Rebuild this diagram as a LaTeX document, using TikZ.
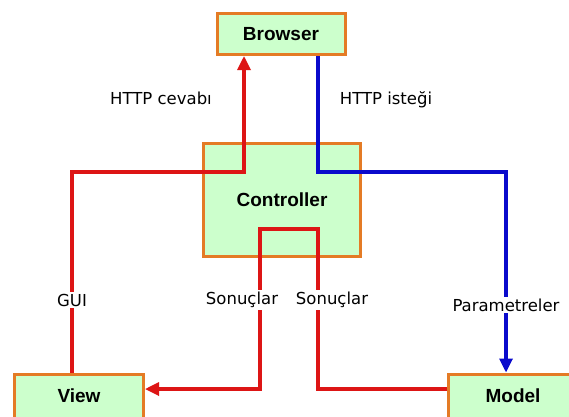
\documentclass[tikz,border=0pt]{standalone}
\usepackage{fontspec}
\setmainfont{DejaVu Sans}
\newfontfamily\boxfont{Liberation Sans}
\usetikzlibrary{arrows.meta}
\definecolor{boxfill}{HTML}{CCFFCC}
\definecolor{boxline}{HTML}{E47B25}
\definecolor{redline}{HTML}{DD1515}
\definecolor{blueline}{HTML}{0A0ACC}
\tikzset{
  mvcbox/.style={draw=boxline, fill=boxfill, line width=3pt, font=\boxfont\bfseries\fontsize{19}{21}\selectfont},
  redwire/.style={draw=redline, line width=3.2pt},
  bluewire/.style={draw=blueline, line width=3.2pt},
  tip/.style={-{Triangle[length=14pt,width=13pt]}},
  lbl/.style={fill=white, inner sep=2pt, font=\fontsize{16.5}{18}\selectfont}
}
\begin{document}
\begin{tikzpicture}[x=1pt,y=-1pt]
  \clip (0,0) rectangle (569,416);
  \fill[white] (0,0) rectangle (569,416);
  \node[mvcbox, minimum width=128pt, minimum height=41pt] (browser) at (281,34) {Browser};
  \node[mvcbox, minimum width=157pt, minimum height=113pt] (controller) at (282,200) {Controller};
  \node[mvcbox, minimum width=129pt, minimum height=44pt] (view) at (79,396) {View};
  \node[mvcbox, minimum width=129pt, minimum height=44pt] (model) at (513,396) {Model};
  \coordinate (gui) at (72,172);
  \coordinate (resp) at (244,172);
  \coordinate (req) at (318,172);
  \coordinate (par) at (506,172);
  \coordinate (sl) at (260,229);
  \coordinate (sr) at (318,229);
  \coordinate (slb) at (260,389);
  \coordinate (srb) at (318,389);
  \draw[redwire, tip] (view.north -| gui) -- (gui) -- (resp) -- (resp |- browser.south);
  \draw[bluewire, tip] (req |- browser.south) -- (req) -- (par) -- (par |- model.north);
  \draw[redwire, tip] (model.west |- srb) -- (srb) -- (sr) -- (sl) -- (slb) -- (view.east |- slb);
  \node[lbl] (cevap) at (161,98) {HTTP cevabı};
  \node[lbl] (istek) at (386,100) {HTTP isteği};
  \node[lbl] (guilbl) at (72,300) {GUI};
  \node[lbl] (sonl) at (242,300) {Sonuçlar};
  \node[lbl] (sonr) at (332,300) {Sonuçlar};
  \node[lbl] (param) at (506,305) {Parametreler};
\end{tikzpicture}
\end{document}
